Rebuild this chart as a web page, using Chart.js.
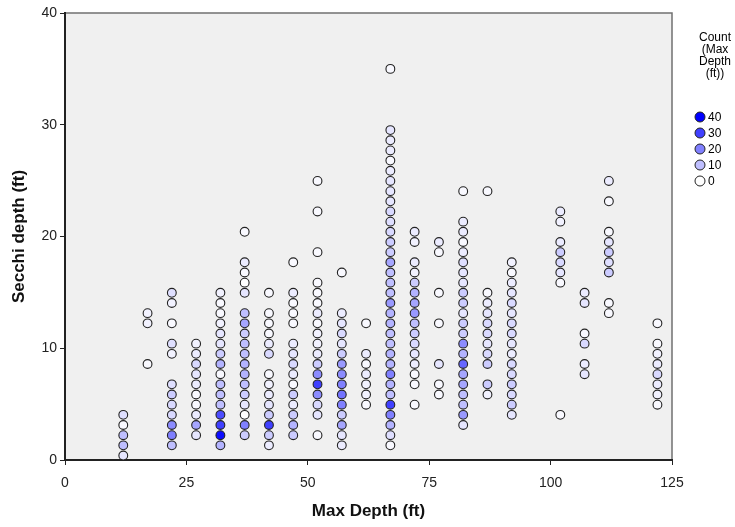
<!DOCTYPE html>
<html>
<head>
<meta charset="utf-8">
<script src="https://cdn.jsdelivr.net/npm/chart.js@4/dist/chart.umd.min.js"></script>
<style>
  html, body { margin: 0; padding: 0; background: #ffffff; }
</style>
</head>
<body>
<canvas id="secchiChart" width="735" height="527"></canvas>
<script>
// Max depth groups (ft) and the Secchi readings found at each one
const maxDepths = [12, 17, 22, 27, 32, 37, 42, 47, 52, 57, 62, 67, 72, 77, 82, 87, 92, 102, 107, 112, 122];

const secchiDepths = [
  [4.04, 3.13, 2.22, 1.31, 0.40],
  [13.14, 12.23, 8.59],
  [14.96, 14.05, 12.23, 10.41, 9.50, 6.77, 5.86, 4.95, 4.04, 3.13, 2.22, 1.31],
  [10.41, 9.50, 8.59, 7.68, 6.77, 5.86, 4.95, 4.04, 3.13, 2.22],
  [14.96, 14.05, 13.14, 12.23, 11.32, 10.41, 9.50, 8.59, 7.68, 6.77, 5.86, 4.95, 4.04, 3.13, 2.22, 1.31],
  [20.42, 17.69, 16.78, 15.87, 14.96, 13.14, 12.23, 11.32, 10.41, 9.50, 8.59, 7.68, 6.77, 5.86, 4.95, 4.04, 3.13, 2.22],
  [14.96, 13.14, 12.23, 11.32, 10.41, 9.50, 7.68, 6.77, 5.86, 4.95, 4.04, 3.13, 2.22, 1.31],
  [17.69, 14.96, 14.05, 13.14, 12.23, 10.41, 9.50, 8.59, 7.68, 6.77, 5.86, 4.95, 4.04, 3.13, 2.22],
  [24.97, 22.24, 18.60, 15.87, 14.96, 14.05, 13.14, 12.23, 11.32, 10.41, 9.50, 8.59, 7.68, 6.77, 5.86, 4.95, 4.04, 2.22],
  [16.78, 13.14, 12.23, 11.32, 10.41, 9.50, 8.59, 7.68, 6.77, 5.86, 4.95, 4.04, 3.13, 2.22, 1.31],
  [12.23, 9.50, 8.59, 7.68, 6.77, 5.86, 4.95],
  [35.00, 29.52, 28.61, 27.70, 26.79, 25.88, 24.97, 24.06, 23.15, 22.24, 21.33, 20.42, 19.51, 18.60, 17.69, 16.78, 15.87,
   14.96, 14.05, 13.14, 12.23, 11.32, 10.41, 9.50, 8.59, 7.68, 6.77, 5.86, 4.95, 4.04, 3.13, 2.22, 1.31],
  [20.42, 19.51, 17.69, 16.78, 15.87, 14.96, 14.05, 13.14, 12.23, 11.32, 10.41, 9.50, 8.59, 7.68, 6.77, 4.95],
  [19.51, 18.60, 14.96, 12.23, 8.59, 6.77, 5.86],
  [24.06, 21.33, 20.42, 19.51, 18.60, 17.69, 16.78, 15.87, 14.96, 14.05, 13.14, 12.23, 11.32, 10.41, 9.50, 8.59, 7.68,
   6.77, 5.86, 4.95, 4.04, 3.13],
  [24.06, 14.96, 14.05, 13.14, 12.23, 11.32, 10.41, 9.50, 8.59, 6.77, 5.86],
  [17.69, 16.78, 15.87, 14.96, 14.05, 13.14, 12.23, 11.32, 10.41, 9.50, 8.59, 7.68, 6.77, 5.86, 4.95, 4.04],
  [22.24, 21.33, 19.51, 18.60, 17.69, 16.78, 15.87, 4.04],
  [14.96, 14.05, 11.32, 10.41, 8.59, 7.68],
  [24.97, 23.15, 20.42, 19.51, 18.60, 17.69, 16.78, 14.05, 13.14],
  [12.23, 10.41, 9.50, 8.59, 7.68, 6.77, 5.86, 4.95]
];

// how many lakes share each point, same order as secchiDepths
const pointCounts = [
  [5, 1, 10, 10, 4],
  [2, 2, 1],
  [5, 2, 1, 5, 2, 5, 8, 6, 6, 18, 20, 10],
  [2, 3, 6, 4, 3, 1, 1, 3, 14, 4],
  [2, 1, 1, 2, 4, 4, 8, 12, 1, 10, 10, 10, 28, 30, 38, 12],
  [1, 3, 1, 0, 4, 10, 14, 8, 10, 10, 12, 12, 10, 8, 4, 0, 20, 8],
  [1, 1, 1, 1, 3, 6, 1, 2, 3, 4, 8, 30, 8, 3],
  [1, 3, 1, 1, 1, 3, 4, 6, 3, 1, 8, 3, 8, 12, 8],
  [1, 1, 1, 1, 1, 1, 3, 1, 2, 2, 3, 8, 18, 30, 18, 6, 4, 1],
  [1, 3, 4, 6, 4, 8, 16, 18, 20, 22, 20, 8, 14, 4, 3],
  [1, 3, 1, 3, 2, 2, 1],
  [1, 4, 3, 3, 1, 3, 4, 4, 4, 6, 5, 6, 8, 8, 14, 10, 10, 10, 16, 12, 12, 10, 10, 12, 12, 20, 12, 10, 30, 20, 12, 5, 1],
  [3, 2, 3, 2, 8, 12, 14, 16, 10, 8, 6, 4, 3, 1, 1, 1],
  [3, 1, 1, 1, 4, 1, 1],
  [1, 3, 3, 1, 3, 5, 4, 4, 8, 8, 4, 8, 8, 18, 12, 24, 14, 14, 10, 10, 16, 4],
  [1, 1, 3, 4, 6, 6, 4, 6, 8, 8, 2],
  [2, 1, 3, 4, 6, 4, 6, 6, 4, 3, 6, 6, 8, 6, 8, 4],
  [3, 2, 3, 8, 6, 4, 1, 1],
  [3, 4, 1, 6, 3, 4],
  [3, 1, 1, 4, 8, 5, 8, 1, 1],
  [1, 1, 2, 3, 6, 3, 2, 1]
];

const xTicks = [0, 25, 50, 75, 100, 125];
const yTicks = [0, 10, 20, 30, 40];
const legendCounts = [40, 30, 20, 10, 0];
const legendTitle = ['Count', '(Max', 'Depth', '(ft))'];

const FONT = "Arial, 'Liberation Sans', sans-serif";
const MAX_COUNT = 40;

// white -> pure blue as the count rises
function countColor(c) {
  const t = Math.min(c, MAX_COUNT) / MAX_COUNT;
  const v = Math.round(255 * (1 - t));
  return 'rgb(' + v + ',' + v + ',255)';
}

const points = [];
maxDepths.forEach((d, i) => {
  secchiDepths[i].forEach((s, j) => {
    points.push({ x: d, y: s, count: pointCounts[i][j] });
  });
});

// grey plot background with a thin frame
const plotFrame = {
  id: 'plotFrame',
  beforeDraw(chart) {
    const { ctx, chartArea: a } = chart;
    ctx.save();
    ctx.fillStyle = '#f0f0f0';
    ctx.fillRect(a.left, a.top, a.right - a.left, a.bottom - a.top);
    ctx.strokeStyle = '#707070';
    ctx.lineWidth = 1.5;
    ctx.strokeRect(a.left, a.top, a.right - a.left, a.bottom - a.top);
    ctx.restore();
  }
};

// count legend on the right
const countLegend = {
  id: 'countLegend',
  afterDraw(chart) {
    const ctx = chart.ctx;
    ctx.save();
    ctx.fillStyle = '#000';
    ctx.font = '12px ' + FONT;
    ctx.textAlign = 'center';
    ctx.textBaseline = 'middle';
    legendTitle.forEach((t, i) => ctx.fillText(t, 715, 38 + i * 12));
    ctx.textAlign = 'left';
    legendCounts.forEach((c, i) => {
      const y = 117 + i * 16;
      ctx.beginPath();
      ctx.arc(700, y, 5, 0, Math.PI * 2);
      ctx.fillStyle = countColor(c);
      ctx.fill();
      ctx.lineWidth = 1;
      ctx.strokeStyle = '#222';
      ctx.stroke();
      ctx.fillStyle = '#000';
      ctx.fillText(String(c), 708, y + 1);
    });
    ctx.restore();
  }
};

const ctx = document.getElementById('secchiChart').getContext('2d');

new Chart(ctx, {
  type: 'scatter',
  data: {
    datasets: [{
      label: 'Secchi depth',
      data: points,
      pointRadius: 4.4,
      pointBorderWidth: 1.1,
      borderColor: '#222',
      backgroundColor: (c) => countColor(c.raw ? c.raw.count : 0),
      pointBackgroundColor: (c) => countColor(c.raw ? c.raw.count : 0),
      pointBorderColor: '#222'
    }]
  },
  options: {
    responsive: false,
    animation: false,
    devicePixelRatio: 1,
    layout: { padding: { top: 13, right: 63, left: 0, bottom: 0 } },
    plugins: {
      legend: { display: false },
      tooltip: { enabled: false }
    },
    scales: {
      x: {
        type: 'linear',
        min: 0,
        max: 125,
        afterBuildTicks: (scale) => { scale.ticks = xTicks.map(v => ({ value: v })); },
        afterFit: (scale) => { scale.height = 67; },
        border: { color: '#222', width: 2 },
        grid: { drawOnChartArea: false, drawTicks: true, tickLength: 5, color: '#222' },
        ticks: { color: '#222', padding: 10, font: { family: FONT, size: 14 } },
        title: {
          display: true,
          text: 'Max Depth (ft)',
          color: '#111',
          font: { family: FONT, size: 17, weight: 'bold' },
          padding: { bottom: 5 }
        }
      },
      y: {
        type: 'linear',
        min: 0,
        max: 40,
        afterBuildTicks: (scale) => { scale.ticks = yTicks.map(v => ({ value: v })); },
        afterFit: (scale) => { scale.width = 65; },
        border: { color: '#222', width: 2 },
        grid: { drawOnChartArea: false, drawTicks: true, tickLength: 5, color: '#222' },
        ticks: { color: '#222', padding: 3, font: { family: FONT, size: 14 } },
        title: {
          display: true,
          text: 'Secchi depth (ft)',
          color: '#111',
          font: { family: FONT, size: 17, weight: 'bold' },
          padding: { top: 9 }
        }
      }
    }
  },
  plugins: [plotFrame, countLegend]
});
</script>
</body>
</html>
